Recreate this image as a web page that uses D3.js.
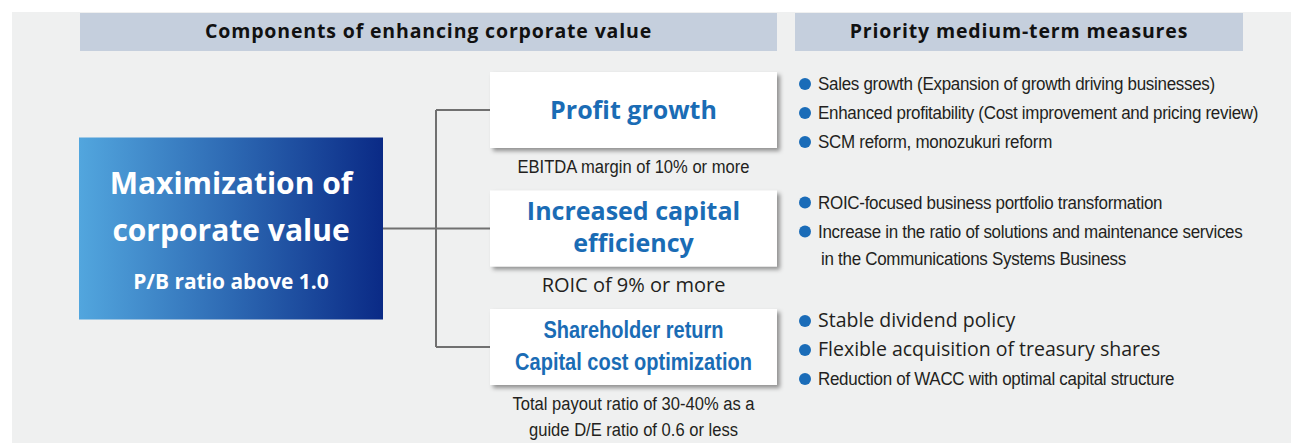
<!DOCTYPE html>
<html>
<head>
<meta charset="utf-8">
<script src="https://cdn.jsdelivr.net/npm/d3@7"></script>
<style>
  html, body { margin: 0; padding: 0; background: #fff; }
  svg { display: block; }
  .head { font-family: "Open Sans", sans-serif; font-weight: 700; font-size: 19.5px; letter-spacing: 0.85px; fill: #111; }
  .goal { font-family: "Open Sans", sans-serif; font-weight: 700; font-size: 30px; fill: #fff; }
  .goal-sub { font-family: "Open Sans", sans-serif; font-weight: 700; font-size: 22px; fill: #fff; }
  .comp { font-family: "Open Sans", sans-serif; font-weight: 700; font-size: 25px; fill: #1a6cb5; }
  .comp-narrow { font-family: "Liberation Sans", sans-serif; font-weight: 700; font-size: 23px; fill: #1a6cb5; }
  .kpi { font-family: "Liberation Sans", sans-serif; font-size: 18px; fill: #231f20; }
  .kpi-wide { font-family: "Open Sans", sans-serif; font-size: 20px; fill: #231f20; }
  .measure { font-family: "Liberation Sans", sans-serif; font-size: 17.5px; letter-spacing: -0.3px; fill: #231f20; }
  .measure-wide { font-family: "Open Sans", sans-serif; font-size: 19.5px; fill: #231f20; }
</style>
</head>
<body>
<div id="chart"></div>
<script>
const headers = ["Components of enhancing corporate value", "Priority medium-term measures"];
const goalLines = ["Maximization of", "corporate value"];
const goalTarget = "P/B ratio above 1.0";
const components = [
  ["Profit growth"],
  ["Increased capital", "efficiency"],
  ["Shareholder return", "Capital cost optimization"]
];
const kpis = [
  ["EBITDA margin of 10% or more"],
  ["ROIC of 9% or more"],
  ["Total payout ratio of 30-40% as a", "guide D/E ratio of 0.6 or less"]
];
const measures = [
  [["Sales growth (Expansion of growth driving businesses)"],
   ["Enhanced profitability (Cost improvement and pricing review)"],
   ["SCM reform, monozukuri reform"]],
  [["ROIC-focused business portfolio transformation"],
   ["Increase in the ratio of solutions and maintenance services", "in the Communications Systems Business"]],
  [["Stable dividend policy"],
   ["Flexible acquisition of treasury shares"],
   ["Reduction of WACC with optimal capital structure"]]
];

// which text style each row uses
const compClass = ["comp", "comp", "comp-narrow"];
const kpiClass = ["kpi", "kpi-wide", "kpi"];
const measureClass = [
  ["measure", "measure", "measure"],
  ["measure", "measure"],
  ["measure-wide", "measure-wide", "measure"]
];
// horizontal squeeze for the condensed face of the original
const squeeze = { "goal-sub": 0.95, "comp-narrow": 0.87, "kpi": 0.92, "measure": 0.97 };

const W = 1291, H = 443;
const box = { x: 490, w: 287, h: 76 };
const goalBox = { x: 79, w: 304, h: 182 };
const trunkX = 436;

function condense(sel) {
  sel.each(function() {
    const k = squeeze[this.getAttribute("class").split(" ").pop()];
    if (!k) return;
    const w = this.getComputedTextLength();
    d3.select(this).attr("textLength", w * k).attr("lengthAdjust", "spacingAndGlyphs");
  });
}

const svg = d3.select("#chart").append("svg")
  .attr("width", W)
  .attr("height", H);

const defs = svg.append("defs");
const grad = defs.append("linearGradient").attr("id", "goalGrad");
grad.append("stop").attr("offset", "0%").attr("stop-color", "#52a6de");
grad.append("stop").attr("offset", "50%").attr("stop-color", "#2d69b3");
grad.append("stop").attr("offset", "100%").attr("stop-color", "#0a2a86");

const shadow = defs.append("filter").attr("id", "shadow")
  .attr("x", "-5%").attr("y", "-10%").attr("width", "115%").attr("height", "130%");
shadow.append("feDropShadow")
  .attr("dx", 3).attr("dy", 3).attr("stdDeviation", 2.2)
  .attr("flood-color", "#000").attr("flood-opacity", 0.4);

// grey panel
svg.append("rect")
  .attr("x", 12).attr("y", 12)
  .attr("width", W - 12).attr("height", H - 12)
  .attr("fill", "#eff0f0");

// column headers
const headerX = d3.scaleOrdinal().domain(headers).range([80, 795]);
const headerW = d3.scaleOrdinal().domain(headers).range([697, 448]);
const headG = svg.append("g").selectAll("g")
  .data(headers)
  .join("g")
  .attr("transform", d => `translate(${headerX(d)},13)`);
headG.append("rect")
  .attr("width", d => headerW(d))
  .attr("height", 38)
  .attr("fill", "#c5cfdd");
headG.append("text")
  .attr("class", "head")
  .attr("x", d => headerW(d) / 2)
  .attr("y", 25)
  .attr("text-anchor", "middle")
  .text(d => d);

// rows
const rowTop = d3.scalePoint()
  .domain(d3.range(components.length))
  .range([72, 309]);
const rowMid = i => rowTop(i) + box.h / 2;

// connectors
const lines = svg.append("g")
  .attr("stroke", "#707070")
  .attr("stroke-width", 2)
  .attr("fill", "none");
lines.append("line")
  .attr("x1", trunkX).attr("x2", trunkX)
  .attr("y1", rowMid(0)).attr("y2", rowMid(components.length - 1));
lines.selectAll("line.branch")
  .data(components)
  .join("line")
  .attr("class", "branch")
  .attr("x1", (d, i) => i === 1 ? goalBox.x + goalBox.w : trunkX)
  .attr("x2", box.x)
  .attr("y1", (d, i) => rowMid(i))
  .attr("y2", (d, i) => rowMid(i));

// goal box
const goalTop = rowMid(1) - goalBox.h / 2;
const goalG = svg.append("g").attr("transform", `translate(${goalBox.x},${goalTop})`);
goalG.append("rect")
  .attr("width", goalBox.w)
  .attr("height", goalBox.h)
  .attr("fill", "url(#goalGrad)");
goalG.selectAll("text.goal")
  .data(goalLines)
  .join("text")
  .attr("class", "goal")
  .attr("x", goalBox.w / 2)
  .attr("y", (d, i) => 56 + i * 47)
  .attr("text-anchor", "middle")
  .text(d => d);
goalG.append("text")
  .attr("class", "goal-sub")
  .attr("x", goalBox.w / 2)
  .attr("y", 151)
  .attr("text-anchor", "middle")
  .text(goalTarget)
  .call(condense);

// component boxes
const rows = svg.append("g").selectAll("g")
  .data(components)
  .join("g")
  .attr("transform", (d, i) => `translate(${box.x},${rowTop(i)})`);
rows.append("rect")
  .attr("width", box.w)
  .attr("height", box.h)
  .attr("fill", "#fff")
  .attr("filter", "url(#shadow)");
rows.each(function(d, i) {
  const g = d3.select(this);
  g.selectAll("text.title")
    .data(d)
    .join("text")
    .attr("class", "title " + compClass[i])
    .attr("x", box.w / 2)
    .attr("y", (t, j) => d.length === 1 ? box.h / 2 + 9 : box.h / 2 - 9 + j * 32)
    .attr("text-anchor", "middle")
    .text(t => t)
    .call(condense);
  g.selectAll("text.kpi-line")
    .data(kpis[i])
    .join("text")
    .attr("class", "kpi-line " + kpiClass[i])
    .attr("x", box.w / 2)
    .attr("y", (t, j) => box.h + 25 + j * 26)
    .attr("text-anchor", "middle")
    .text(t => t)
    .call(condense);
});

// measures
const bulletX = 805, textX = 818;
const meas = svg.append("g").selectAll("g")
  .data(measures)
  .join("g")
  .attr("transform", (d, i) => `translate(0,${rowTop(i) + 18})`);
meas.each(function(items, i) {
  const g = d3.select(this);
  items.forEach((lines, j) => {
    g.append("circle")
      .attr("cx", bulletX)
      .attr("cy", j * 29 - 6)
      .attr("r", 6)
      .attr("fill", "#1a6cb8");
    lines.forEach((t, k) => {
      g.append("text")
        .attr("class", measureClass[i][j])
        .attr("x", textX + (k ? 3 : 0))
        .attr("y", j * 29 + k * 27)
        .text(t)
        .call(condense);
    });
  });
});
</script>
</body>
</html>
